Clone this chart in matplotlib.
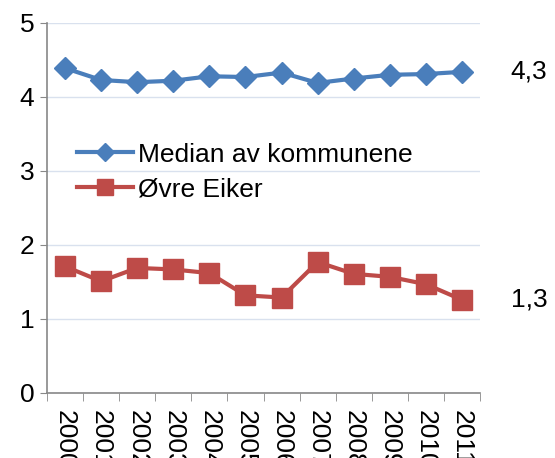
import matplotlib
matplotlib.use("Agg")
from matplotlib import pyplot as plt
import numpy as np

years = ['2000', '2001', '2002', '2003', '2004', '2005', '2006', '2007',
         '2008', '2009', '2010', '2011']
median = [4.39, 4.23, 4.20, 4.22, 4.28, 4.27, 4.33, 4.19, 4.25, 4.30, 4.31, 4.34]
ovre_eiker = [1.71, 1.51, 1.69, 1.67, 1.62, 1.32, 1.29, 1.77, 1.61, 1.57, 1.47, 1.26]
end_labels = ['4,3', '1,3']

plt.rcParams['font.family'] = ['Liberation Sans', 'DejaVu Sans']

fig = plt.figure(figsize=(5.55, 4.58), dpi=100)
ax = fig.add_axes([47/555, 65/458, 433/555, 370/458])

x = np.arange(len(years))
blue = '#4a7ebb'
red = '#be4b48'
ax.plot(x, median, color=blue, lw=3, marker='D', ms=11, label='Median av kommunene')
ax.plot(x, ovre_eiker, color=red, lw=3, marker='s', ms=14, label='Øvre Eiker')

ax.annotate(end_labels[0], (x[-1], median[-1]), xytext=(35, 0), textcoords='offset points',
            va='center', fontsize=19)
ax.annotate(end_labels[1], (x[-1], ovre_eiker[-1]), xytext=(35, 0), textcoords='offset points',
            va='center', fontsize=19)

ax.set_xlim(-0.5, len(years) - 0.5)
ax.set_ylim(0, 5)
ax.set_yticks(range(6))
ax.tick_params(axis='y', labelsize=19, length=5, color='#888888', pad=4)
ax.yaxis.grid(True, color='#d9e1ee', lw=1)
ax.set_axisbelow(True)

# year labels run off the bottom edge, as in the original
ax.set_xticks(x)
ax.set_xticklabels(years, rotation=270, fontsize=19)
ax.set_xticks(np.arange(-0.5, len(years)), minor=True)
ax.tick_params(axis='x', which='major', length=0, pad=12)
ax.tick_params(axis='x', which='minor', length=6, color='#888888')

for s in ['top', 'right']:
    ax.spines[s].set_visible(False)
for s in ['left', 'bottom']:
    ax.spines[s].set_color('#888888')
    ax.spines[s].set_linewidth(1.2)

ax.legend(loc='upper left', bbox_to_anchor=(0.07, 0.677), frameon=False, fontsize=19,
          borderpad=0, borderaxespad=0, handlelength=2.1, handletextpad=0.2,
          labelspacing=0.4, markerscale=0.85)

fig.savefig('out.png', dpi=100)
